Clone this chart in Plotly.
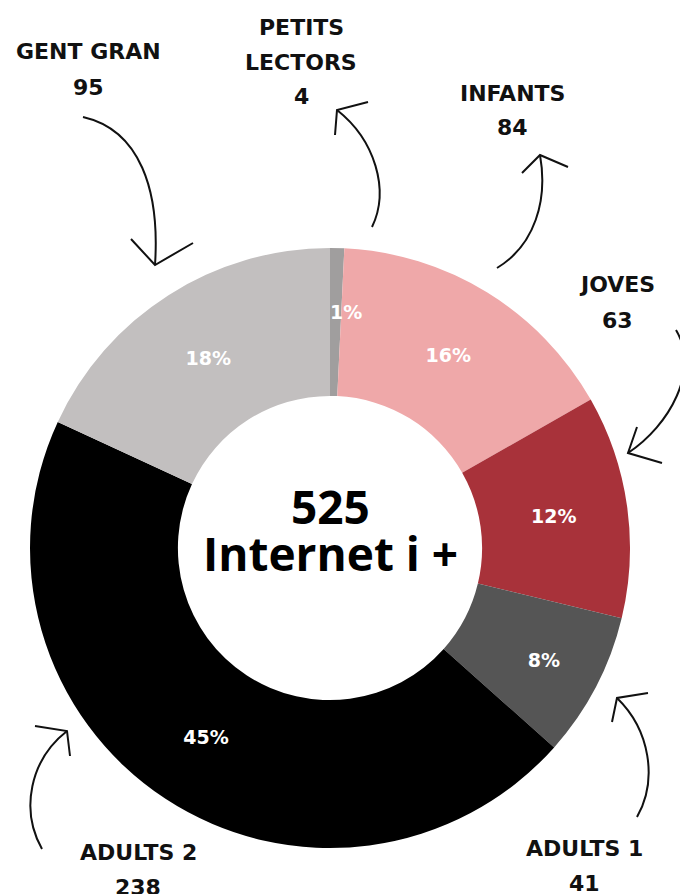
import plotly.graph_objects as go

W, H = 680, 894

# ---- data ----
groups = ["PETITS LECTORS", "INFANTS", "JOVES", "ADULTS 1", "ADULTS 2", "GENT GRAN"]
values = [4, 84, 63, 41, 238, 95]
colors = ["#a09e9e", "#efa8a9", "#a8323a", "#555555", "#000000", "#c2bfbf"]
total_label = "525"
center_label = "Internet i +"

# outer label name lines per group
label_lines = {
    "PETITS LECTORS": ["PETITS", "LECTORS"],
    "INFANTS": ["INFANTS"],
    "JOVES": ["JOVES"],
    "ADULTS 1": ["ADULTS 1"],
    "ADULTS 2": ["ADULTS 2"],
    "GENT GRAN": ["GENT GRAN"],
}

LABEL_FONT = "DejaVu Sans"
CENTER_FONT = "Open Sans"


def px(x):
    return x / W


def py(y):
    return 1 - y / H


total = sum(values)
# tiny slice gets its percentage as a separate label (as in the reference)
positions = ["none" if v / total < 0.02 else "inside" for v in values]

fig = go.Figure()
fig.add_trace(go.Pie(
    labels=groups,
    values=values,
    marker=dict(colors=colors, line=dict(width=0)),
    hole=0.507,
    sort=False,
    direction="clockwise",
    rotation=0,
    texttemplate="%{percent:.0%}",
    textposition=positions,
    insidetextorientation="horizontal",
    insidetextfont=dict(family=LABEL_FONT, size=19, color="white", weight="bold"),
    showlegend=False,
    hoverinfo="label+value+percent",
    domain=dict(x=[px(30), px(630)], y=[py(848), py(248)]),
))

annotations = []


def add_text(txt, x, y, size, color="#111111", family=LABEL_FONT):
    annotations.append(dict(
        text=txt, x=px(x), y=py(y), xref="paper", yref="paper",
        xanchor="center", yanchor="middle", showarrow=False,
        font=dict(family=family, size=size, color=color, weight="bold"),
    ))


# label anchor positions (pixel centres of first line), line gap
label_pos = {
    "PETITS LECTORS": (301, 27),
    "INFANTS": (512, 93),
    "JOVES": (617, 285),
    "ADULTS 1": (584, 848),
    "ADULTS 2": (138, 852),
    "GENT GRAN": (88, 52),
}
GAP = 35
for g, v in zip(groups, values):
    x0, y0 = label_pos[g]
    lines = label_lines[g] + [str(v)]
    for i, ln in enumerate(lines):
        add_text(ln, x0, y0 + i * GAP, 22)

# small-slice percentage
for g, v, pos in zip(groups, values, positions):
    if pos == "none":
        add_text(f"{round(100 * v / total)}%", 346, 312, 19, "white")

add_text(total_label, 330, 506, 46, "#000000", CENTER_FONT)
add_text(center_label, 330, 553, 46, "#000000", CENTER_FONT)

# hand-drawn style arrows (decoration)
arrows = [
    ((83, 117), (140, 130), (160, 190), (155, 265), [(131, 239), (155, 265), (193, 243)]),
    ((372, 227), (390, 190), (375, 140), (337, 110), [(335, 135), (337, 110), (368, 102)]),
    ((497, 268), (535, 245), (548, 200), (540, 155), [(522, 173), (540, 155), (568, 167)]),
    ((676, 330), (700, 370), (670, 425), (628, 453), [(637, 427), (628, 453), (662, 463)]),
    ((42, 849), (20, 810), (30, 760), (67, 731), [(35, 726), (67, 731), (70, 756)]),
    ((637, 817), (658, 780), (650, 730), (617, 698), [(648, 693), (617, 698), (612, 722)]),
]


def P(pt):
    return f"{px(pt[0]):.5f},{py(pt[1]):.5f}"


shapes = []
for s, c1, c2, e, head in arrows:
    shapes.append(dict(type="path", xref="paper", yref="paper",
                       path=f"M {P(s)} C {P(c1)} {P(c2)} {P(e)}",
                       line=dict(color="#111111", width=2)))
    shapes.append(dict(type="path", xref="paper", yref="paper",
                       path=f"M {P(head[0])} L {P(head[1])} L {P(head[2])}",
                       line=dict(color="#111111", width=2)))

fig.update_layout(
    width=W, height=H,
    margin=dict(l=0, r=0, t=0, b=0),
    paper_bgcolor="white",
    plot_bgcolor="white",
    uniformtext=dict(minsize=19, mode="show"),
    annotations=annotations,
    shapes=shapes,
)

fig.write_html(
    "out.html",
    config={"displayModeBar": False},
    post_script="document.body.style.margin='0';document.body.style.overflow='hidden';",
)
